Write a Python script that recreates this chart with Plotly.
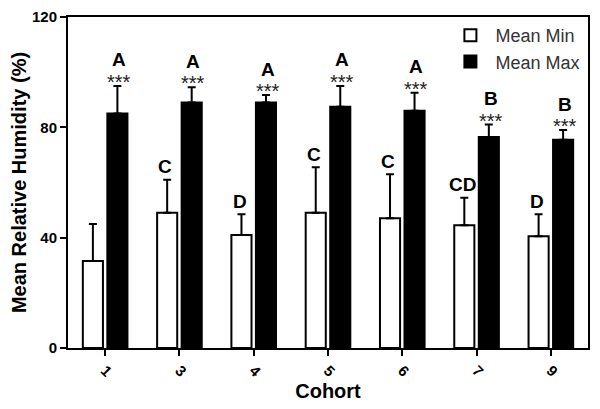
import plotly.graph_objects as go

# values
cohorts = ["1", "3", "4", "5", "6", "7", "9"]
mean_min = [31.5, 49, 41, 49, 47, 44.5, 40.5]
min_err = [13.5, 12, 7.5, 16.5, 16, 10, 8]
mean_max = [85, 89, 89, 87.5, 86, 76.5, 75.5]
max_err = [10, 5.5, 2.7, 7.5, 6.5, 4.5, 3.5]
min_letters = ["", "C", "D", "C", "C", "CD", "D"]
max_letters = ["A", "A", "A", "A", "A", "B", "B"]
max_stars = ["***"] * 7

font = "Liberation Sans, Arial, sans-serif"

fig = go.Figure()
fig.add_trace(go.Bar(
    x=cohorts, y=mean_min, name="Mean Min",
    marker=dict(color="white", line=dict(color="black", width=2)),
    error_y=dict(type="data", symmetric=False, array=min_err,
                 arrayminus=[0] * len(min_err), color="black", thickness=2, width=4),
))
fig.add_trace(go.Bar(
    x=cohorts, y=mean_max, name="Mean Max",
    marker=dict(color="black", line=dict(color="black", width=2)),
    error_y=dict(type="data", symmetric=False, array=max_err,
                 arrayminus=[0] * len(max_err), color="black", thickness=2, width=4),
))

# significance letters and stars above the error bars
for i, c in enumerate(cohorts):
    if min_letters[i]:
        fig.add_annotation(x=i, xshift=-14, y=mean_min[i] + min_err[i], yshift=13,
                           text=min_letters[i], showarrow=False,
                           font=dict(family=font, size=19, color="black", weight="bold"))
    top = mean_max[i] + max_err[i]
    fig.add_annotation(x=i, xshift=14, y=top, yshift=4,
                       text=max_stars[i], showarrow=False,
                       font=dict(family=font, size=20, color="#222222"))
    fig.add_annotation(x=i, xshift=14, y=top, yshift=26,
                       text=max_letters[i], showarrow=False,
                       font=dict(family=font, size=19, color="black", weight="bold"))

# page body has an 8px margin, so the figure is sized to fit inside it
fig.update_layout(
    width=592, height=401,
    margin=dict(l=60, r=12, t=9, b=61),
    plot_bgcolor="white", paper_bgcolor="white",
    barmode="group", bargap=0.34, bargroupgap=0.18,
    font=dict(family=font, color="black"),
    showlegend=True,
    legend=dict(x=0.995, y=1.0, xanchor="right", yanchor="top",
                font=dict(size=18, color="#333333"), bgcolor="rgba(0,0,0,0)",
                itemwidth=40, tracegroupgap=0),
)
fig.update_xaxes(
    title=dict(text="<b>Cohort</b>", font=dict(size=20), standoff=0),
    tickangle=45, tickfont=dict(size=15, weight="bold"),
    showline=True, linecolor="black", linewidth=2, mirror=True,
    ticks="outside", ticklen=6, tickwidth=2, tickcolor="black",
    range=[-0.5, 6.5], automargin=False, ticklabeloverflow="allow",
)
fig.update_yaxes(
    title=dict(text="<b>Mean Relative Humidity (%)</b>", font=dict(size=20), standoff=2),
    range=[0, 120], tickvals=[0, 40, 80, 120],
    tickfont=dict(size=15, weight="bold"),
    showline=True, linecolor="black", linewidth=2, mirror=True,
    ticks="outside", ticklen=6, tickwidth=2, tickcolor="black",
    showgrid=False, zeroline=False, automargin=False, ticklabeloverflow="allow",
)

fig.write_html("out.html")
